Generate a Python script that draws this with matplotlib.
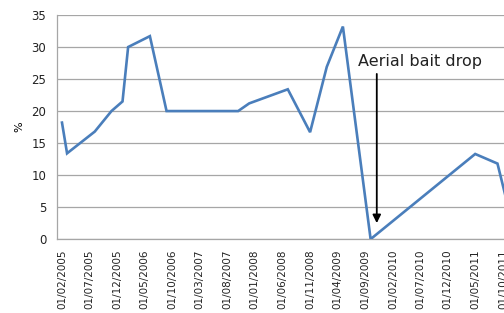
import matplotlib
matplotlib.use('Agg')
import matplotlib.pyplot as plt
import pandas as pd

# monthly survey points
dates = ['2005-02-01', '2005-03-01', '2005-08-01', '2005-11-01', '2006-01-01',
         '2006-02-01', '2006-06-01', '2006-09-01', '2007-10-01', '2007-12-01',
         '2008-07-01', '2008-11-01', '2009-02-01', '2009-05-01', '2009-10-01',
         '2011-05-01', '2011-09-01', '2011-11-01']
values = [18.2, 13.4, 16.8, 20.0, 21.5,
          30.0, 31.7, 20.0, 20.0, 21.2,
          23.4, 16.7, 26.9, 33.2, 0.0,
          13.3, 11.8, 4.8]

tick_labels = ['01/02/2005', '01/07/2005', '01/12/2005', '01/05/2006', '01/10/2006',
               '01/03/2007', '01/08/2007', '01/01/2008', '01/06/2008', '01/11/2008',
               '01/04/2009', '01/09/2009', '01/02/2010', '01/07/2010', '01/12/2010',
               '01/05/2011', '01/10/2011']

drop_date = '2009-11-04'
drop_label = 'Aerial bait drop'

x = pd.to_datetime(dates)
ticks = pd.to_datetime(tick_labels, format='%d/%m/%Y')

fig = plt.figure(figsize=(5.04, 3.13), dpi=100)
ax = fig.add_axes([0.114, 0.236, 0.886, 0.716])

ax.plot(x, values, color='#4a7ebb', lw=1.9, solid_joinstyle='miter', zorder=3)

ax.set_ylim(0, 35)
ax.set_yticks(range(0, 36, 5))
ax.set_xlim(pd.Timestamp('2005-01-07'), pd.Timestamp('2011-10-07'))
ax.set_xticks(ticks)
ax.set_xticklabels(tick_labels, rotation=90, va='top')

ax.yaxis.grid(True, color='#a6a6a6', lw=0.9)
ax.set_axisbelow(True)
for s in ['top', 'right']:
    ax.spines[s].set_visible(False)
for s in ['left', 'bottom']:
    ax.spines[s].set_color('#a6a6a6')
    ax.spines[s].set_linewidth(0.9)

ax.tick_params(axis='y', length=0, pad=8, labelsize=8.5, labelcolor='#222222')
ax.tick_params(axis='x', length=0, pad=7.5, labelsize=7.5, labelcolor='#222222')
ax.set_ylabel('%', fontsize=8, labelpad=5)

ax.annotate('', xy=(pd.Timestamp(drop_date), 2.5), xytext=(pd.Timestamp(drop_date), 25.8),
            arrowprops=dict(arrowstyle='-|>', color='black', lw=1.3,
                            mutation_scale=12, shrinkA=0, shrinkB=0), zorder=4)
ax.text(pd.Timestamp('2009-07-22'), 27.7, drop_label, ha='left', va='center',
        fontsize=11.5, color='#222222')

fig.savefig('out.png', dpi=100)
